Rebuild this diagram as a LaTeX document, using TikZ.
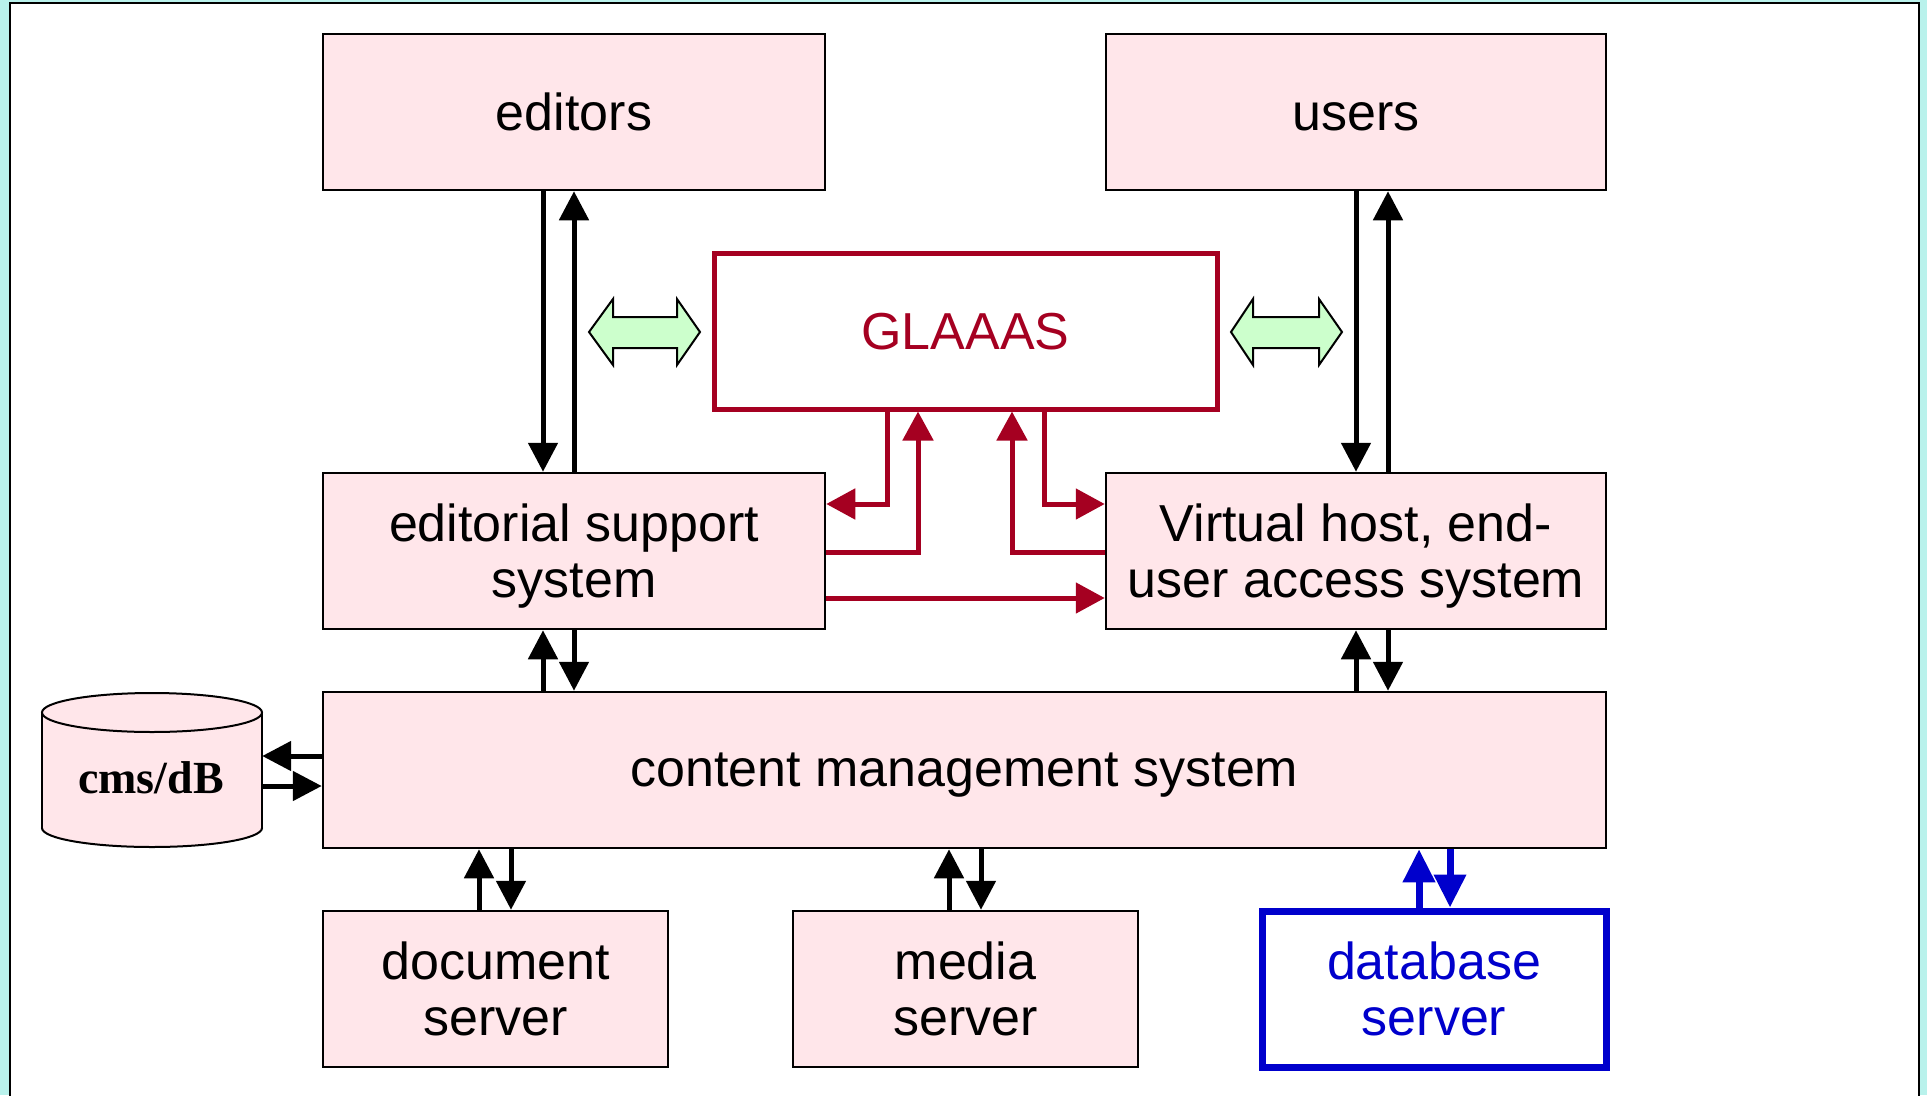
\documentclass[tikz,border=0pt]{standalone}
\usepackage{fontspec}
\setmainfont{Liberation Sans}
\newfontfamily\serifb{Liberation Serif}
\usetikzlibrary{arrows.meta,calc}
\definecolor{bgcyan}{RGB}{185,242,236}
\definecolor{boxpink}{RGB}{255,230,234}
\definecolor{glred}{RGB}{165,0,33}
\definecolor{dbblue}{RGB}{0,0,204}
\definecolor{arrgreen}{RGB}{204,255,204}
\begin{document}
\begin{tikzpicture}[x=1pt,y=-1pt,
  box/.style={draw=black,line width=2.5pt,fill=boxpink,minimum width=502pt,minimum height=156pt,inner sep=0pt,align=center,text depth=0pt,font=\fontsize{52}{56}\selectfont},
  redbox/.style={box,draw=glred,line width=5pt,fill=white,text=glred,minimum width=503pt},
  bluebox/.style={box,draw=dbblue,line width=7pt,fill=white,text=dbblue},
  blk/.style={line width=5pt,-{Triangle[length=29pt,width=29pt]}},
  redarr/.style={draw=glred,line width=5pt,-{Triangle[length=29pt,width=30pt]}},
  bluearr/.style={draw=dbblue,line width=7pt,-{Triangle[length=33pt,width=31pt]}},
  greenarr/.style={draw=black,line width=2pt,fill=arrgreen,line join=miter}]
\useasboundingbox (0,0) rectangle (1927,1095);
\clip (0,0) rectangle (1927,1095);
\fill[bgcyan] (0,0) rectangle (1927,1095);
\draw[line width=2.5pt,fill=white] (10,3) rectangle (1919,1120);

% boxes
\node[box] (editors) at (574,112) {editors};
\node[box,minimum width=500pt] (users) at (1356,112) {users\vphantom{d}};
\node[redbox] (glaaas) at (965.5,331) {GLAAAS};
\node[box] (editorial) at (574,551) {editorial support\\system};
\node[box,minimum width=500pt] (vhost) at (1356,551) {Virtual host, end-\\user access system};
\node[box,minimum width=1283pt] (cms) at (964.5,770) {content management system};
\node[box,minimum width=345pt] (docsrv) at (495.5,989) {document\\server};
\node[box,minimum width=345pt] (mediasrv) at (965.5,989) {media\\server};
\node[bluebox,minimum width=344pt] (dbsrv) at (1434,989) {database\\server};

% cylinder
\filldraw[fill=boxpink,draw=black,line width=2pt] (152,828) ellipse [x radius=110, y radius=19];
\fill[boxpink] (42,712) rectangle (262,828);
\draw[line width=2pt] (42,712) -- (42,828) (262,712) -- (262,828);
\filldraw[fill=boxpink,draw=black,line width=2pt] (152,712.5) ellipse [x radius=110, y radius=19.5];
\node[minimum width=220pt,minimum height=154pt,inner sep=0pt] (cyl) at (152,770) {};
\node[font=\serifb\bfseries\fontsize{46}{50}\selectfont] (cyllabel) at (151,778) {cms/dB};

% green double arrows
\draw[greenarr] (589,332) -- (613,299) -- (613,317) -- (677,317) -- (677,299) -- (700,332) -- (677,365) -- (677,348) -- (613,348) -- (613,365) -- cycle;
\draw[greenarr] (1231,332) -- (1253,299) -- (1253,317) -- (1319,317) -- (1319,299) -- (1342,332) -- (1319,365) -- (1319,348) -- (1253,348) -- (1253,365) -- cycle;

% editors <-> editorial
\draw[blk] ([xshift=-31pt]editors.south) -- ([xshift=-31pt]editorial.north);
\draw[blk] (editorial.north) -- (editors.south);
% users <-> vhost
\draw[blk] (users.south) -- (vhost.north);
\draw[blk] ([xshift=32pt]vhost.north) -- ([xshift=32pt]users.south);
% editorial <-> cms
\draw[blk] ($(editorial.south |- cms.north)+(-31,0)$) -- ([xshift=-31pt]editorial.south);
\draw[blk] (editorial.south) -- (editorial.south |- cms.north);
% vhost <-> cms
\draw[blk] (vhost.south |- cms.north) -- (vhost.south);
\draw[blk] ([xshift=32pt]vhost.south) -- ($(vhost.south |- cms.north)+(32,0)$);
% cms <-> servers
\draw[blk] ($(docsrv.north)+(-16.5,0)$) -- ($(docsrv.north |- cms.south)+(-16.5,0)$);
\draw[blk] ($(docsrv.north |- cms.south)+(15.5,0)$) -- ($(docsrv.north)+(15.5,0)$);
\draw[blk] ($(mediasrv.north)+(-16.5,0)$) -- ($(mediasrv.north |- cms.south)+(-16.5,0)$);
\draw[blk] ($(mediasrv.north |- cms.south)+(15.5,0)$) -- ($(mediasrv.north)+(15.5,0)$);
\draw[bluearr] ($(dbsrv.north)+(-15,0)$) -- ($(dbsrv.north |- cms.south)+(-15,0)$);
\draw[bluearr] ($(dbsrv.north |- cms.south)+(16,0)$) -- ($(dbsrv.north)+(16,0)$);
% cms <-> cylinder
\draw[blk] ([yshift=14pt]cms.west) -- ([yshift=14pt]cyl.east);
\draw[blk] ([yshift=-16pt]cyl.east) -- ([yshift=-16pt]cms.west);

% red connectors
\draw[redarr] ([xshift=-78.5pt]glaaas.south) |- ([yshift=47pt]editorial.east);
\draw[redarr] ([yshift=-1pt]editorial.east) -| ([xshift=-47.5pt]glaaas.south);
\draw[redarr] ([yshift=-1pt]vhost.west) -| ([xshift=46.5pt]glaaas.south);
\draw[redarr] ([xshift=78.5pt]glaaas.south) |- ([yshift=47pt]vhost.west);
\draw[redarr] ([yshift=-47pt]editorial.east) -- ([yshift=-47pt]vhost.west);
\end{tikzpicture}
\end{document}
